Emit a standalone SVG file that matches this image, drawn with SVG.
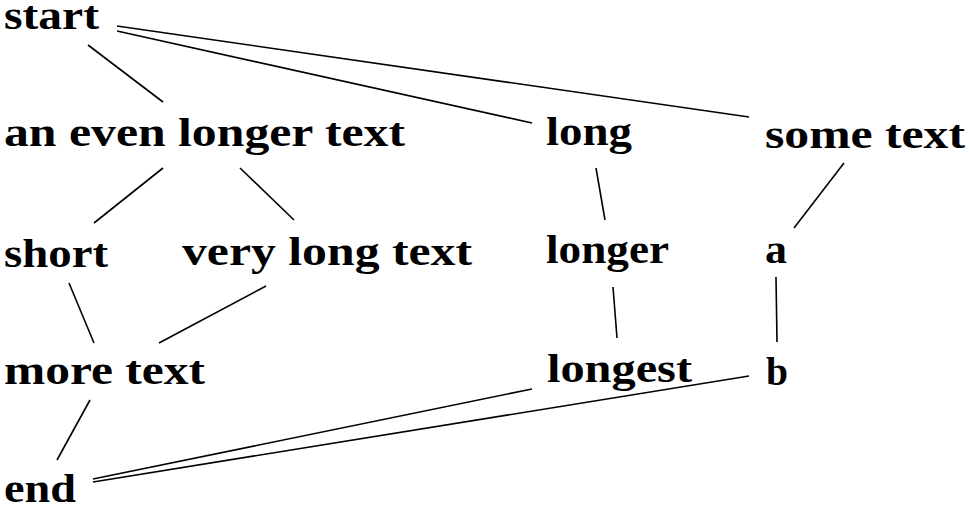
<svg xmlns="http://www.w3.org/2000/svg" width="970" height="509" viewBox="0 0 970 509">
<style>
text{font-family:"Liberation Serif","DejaVu Serif",serif;font-weight:bold;font-size:40px;fill:#000}
.e line{stroke:#000;stroke-width:1.6;stroke-linecap:butt}
</style>
<rect width="970" height="509" fill="#fff"/>
<g class="e" id="connectors">
<line x1="88" y1="45" x2="163" y2="102"/>
<line x1="117" y1="31" x2="532" y2="123"/>
<line x1="117" y1="26" x2="749" y2="117"/>
<line x1="163" y1="168" x2="94" y2="223"/>
<line x1="240" y1="168" x2="294" y2="220"/>
<line x1="596" y1="168" x2="605" y2="220"/>
<line x1="844" y1="163" x2="794" y2="228"/>
<line x1="69" y1="283" x2="94" y2="343"/>
<line x1="266" y1="286" x2="159" y2="343"/>
<line x1="613" y1="287" x2="617" y2="338"/>
<line x1="776" y1="277" x2="777" y2="342"/>
<line x1="90" y1="400" x2="57" y2="460"/>
<line x1="532" y1="389" x2="93" y2="479"/>
<line x1="749" y1="376" x2="93" y2="482"/>
</g>
<g id="n-start"><text x="4" y="29" textLength="95" lengthAdjust="spacingAndGlyphs">start</text></g>
<g id="n-even"><text x="4" y="146" textLength="401" lengthAdjust="spacingAndGlyphs">an even longer text</text></g>
<g id="n-long"><text x="546" y="145" textLength="86" lengthAdjust="spacingAndGlyphs">long</text></g>
<g id="n-some"><text x="765" y="148" textLength="200" lengthAdjust="spacingAndGlyphs">some text</text></g>
<g id="n-short"><text x="4" y="267" textLength="104" lengthAdjust="spacingAndGlyphs">short</text></g>
<g id="n-very"><text x="182" y="265" textLength="290" lengthAdjust="spacingAndGlyphs">very long text</text></g>
<g id="n-longer"><text x="546" y="263" textLength="123" lengthAdjust="spacingAndGlyphs">longer</text></g>
<g id="n-a"><text x="765" y="263" textLength="22" lengthAdjust="spacingAndGlyphs">a</text></g>
<g id="n-more"><text x="4" y="384" textLength="201" lengthAdjust="spacingAndGlyphs">more text</text></g>
<g id="n-longest"><text x="547" y="382" textLength="145" lengthAdjust="spacingAndGlyphs">longest</text></g>
<g id="n-b"><text x="766" y="385" textLength="22" lengthAdjust="spacingAndGlyphs">b</text></g>
<g id="n-end"><text x="4" y="502" textLength="72" lengthAdjust="spacingAndGlyphs">end</text></g>
</svg>
